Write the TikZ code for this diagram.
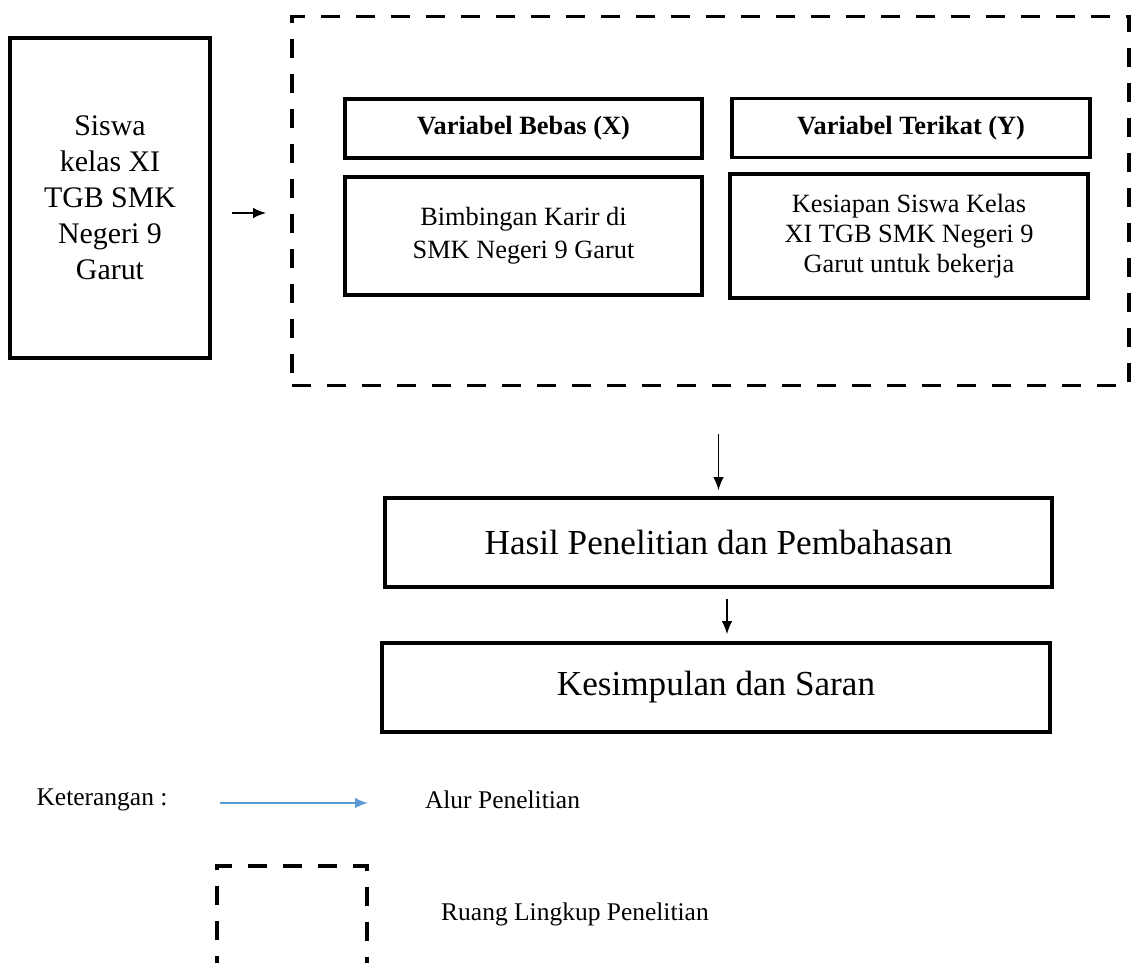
\documentclass[tikz,border=0pt]{standalone}
\usepackage{fontspec}
\setmainfont{Liberation Serif}
\usetikzlibrary{arrows.meta,positioning}
\definecolor{alurblue}{HTML}{5B9BD5}

\begin{document}
\begin{tikzpicture}[
    >={Latex[length=2.6mm,width=2.1mm]},
    box node/.style={draw,line width=2pt,inner sep=2pt,align=center},
    head node/.style={box node,font=\fontsize{15}{18}\selectfont\bfseries},
    scope line/.style={draw,line width=2.2pt,dash pattern=on 0.38cm off 0.32cm},
    legend text/.style={font=\fontsize{14.5}{17}\selectfont},
    flow/.style={->,line width=0.9pt}
  ]
    \useasboundingbox (0,0) rectangle (22.66,-19.26);

    % Subject of the study
    \node[box node, minimum width=4cm, minimum height=6.4cm,
          font=\fontsize{17}{20.5}\selectfont] (siswa) at (2.2,-3.96)
          {Siswa\\kelas XI\\TGB SMK\\Negeri 9\\Garut};

    % Scope of the study
    \node[scope line, minimum width=16.74cm, minimum height=7.38cm, inner sep=0pt] (ruang) at (14.21,-4.02) {};
    \node[head node, minimum width=7.14cm, minimum height=1.18cm] (varx) at (10.47,-2.57) {Variabel Bebas (X)};
    \node[head node, minimum width=7.16cm, minimum height=1.18cm] (vary) at (18.22,-2.56) {Variabel Terikat (Y)};
    \node[box node, minimum width=7.14cm, minimum height=2.36cm,
          font=\fontsize{15}{18.7}\selectfont] (bimbingan) at (10.47,-4.72)
          {Bimbingan Karir di\\SMK Negeri 9 Garut};
    \node[box node, minimum width=7.16cm, minimum height=2.48cm,
          font=\fontsize{15}{17}\selectfont] (kesiapan) at (18.18,-4.72)
          {Kesiapan Siswa Kelas\\XI TGB SMK Negeri 9\\Garut untuk bekerja};

    % Results and conclusion
    \node[box node, minimum width=13.34cm, minimum height=1.78cm,
          font=\fontsize{20}{24}\selectfont] (hasil) at (14.37,-10.85) {Hasil Penelitian dan Pembahasan};
    \node[box node, minimum width=13.36cm, minimum height=1.78cm,
          font=\fontsize{20}{24}\selectfont] (simpulan) at (14.32,-13.75) {Kesimpulan dan Saran};

    \draw[flow, shorten <=0.4cm, shorten >=0.48cm] ([yshift=-0.3cm]siswa.east) -- ([yshift=-0.3cm]siswa.east -| ruang.west);
    \draw[flow, shorten <=0.94cm, shorten >=0.12cm] (hasil.north |- ruang.south) -- (hasil.north);
    \draw[flow, shorten <=0.2cm, shorten >=0.14cm] ([xshift=0.17cm]hasil.south) -- ([xshift=0.17cm]hasil.south |- simpulan.north);

    % Legend
    \node[legend text] (keterangan) at (2.04,-16.0) {Keterangan :};
    \coordinate (alur start) at (4.4,-16.06);
    \coordinate (alur end) at (7.36,-16.06);
    \draw[->, color=alurblue, line width=1pt] (alur start) -- (alur end);
    \node[legend text] (alur) at (10.05,-16.0) {Alur Penelitian};

    \draw[scope line] (4.34,-19.5) |- (7.34,-17.32) -- (7.34,-19.5);
    \node[legend text] (lingkup) at (11.5,-18.28) {Ruang Lingkup Penelitian};

\end{tikzpicture}
\end{document}
